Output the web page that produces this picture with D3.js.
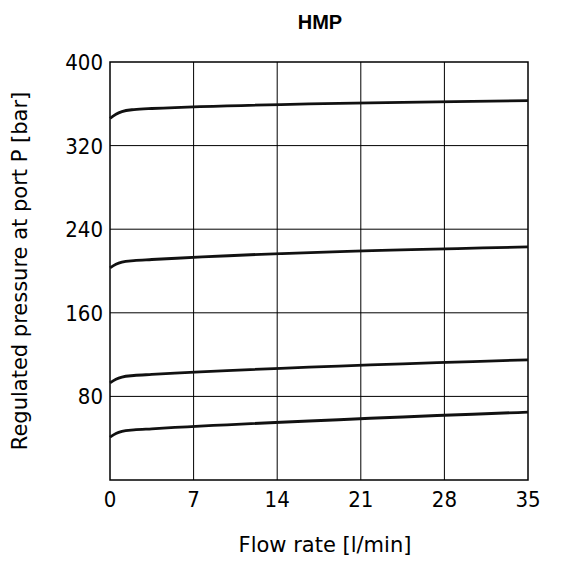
<!DOCTYPE html>
<html><head><meta charset="utf-8">
<script src="https://cdn.jsdelivr.net/npm/d3@7"></script>
<style>body{margin:0;background:#fff}</style></head>
<body><svg id="c" width="562" height="576"></svg>
<script>
const flow = [0, 0.5, 1, 2, 3.5, 35];
const curve1 = [346, 350, 352.5, 354.5, 355.5, 363];
const curve2 = [203, 206.5, 208.5, 210, 211, 223];
const curve3 = [93, 96.5, 98.5, 100, 101, 115];
const curve4 = [41, 44.5, 46.5, 48, 49, 65];
const xTicks = [0, 7, 14, 21, 28, 35];
const yTicks = [80, 160, 240, 320, 400];

const svg = d3.select("#c");
const x = d3.scaleLinear().domain([0, 35]).range([110, 528]);
const y = d3.scaleLinear().domain([0, 400]).range([480, 62]);
const font = "'DejaVu Sans Condensed','DejaVu Sans',sans-serif";

const g = svg.append("g");
g.selectAll(".vg").data(xTicks.slice(1, -1)).enter().append("line")
  .attr("x1", d => x(d)).attr("x2", d => x(d)).attr("y1", y(0)).attr("y2", y(400))
  .attr("stroke", "#000").attr("stroke-width", 1);
g.selectAll(".hg").data(yTicks.slice(0, -1)).enter().append("line")
  .attr("x1", x(0)).attr("x2", x(35)).attr("y1", d => y(d)).attr("y2", d => y(d))
  .attr("stroke", "#000").attr("stroke-width", 1);
g.append("rect").attr("x", x(0)).attr("y", y(400)).attr("width", x(35) - x(0)).attr("height", y(0) - y(400))
  .attr("fill", "none").attr("stroke", "#000").attr("stroke-width", 1.5);

const line = d3.line().x(d => x(d[0])).y(d => y(d[1])).curve(d3.curveMonotoneX);
[curve1, curve2, curve3, curve4].forEach(c => {
  g.append("path").attr("d", line(flow.map((f, i) => [f, c[i]])))
    .attr("fill", "none").attr("stroke", "#111").attr("stroke-width", 2.8);
});

svg.selectAll(".xt").data(xTicks).enter().append("text")
  .attr("x", d => x(d)).attr("y", 507).attr("text-anchor", "middle")
  .attr("font-family", font).attr("font-size", 22).text(d => d);
svg.selectAll(".yt").data(yTicks).enter().append("text")
  .attr("x", 103).attr("y", d => y(d) + 8).attr("text-anchor", "end")
  .attr("font-family", font).attr("font-size", 22).text(d => d);

svg.append("text").attr("x", 320).attr("y", 29).attr("text-anchor", "middle")
  .attr("font-family", "'Liberation Sans',Arial,sans-serif").attr("font-weight", "bold").attr("font-size", 20).text("HMP");
svg.append("text").attr("x", 325).attr("y", 552).attr("text-anchor", "middle")
  .attr("font-family", "'DejaVu Sans',sans-serif").attr("font-size", 21).text("Flow rate [l/min]");
svg.append("text").attr("transform", "translate(27,271) rotate(-90)").attr("text-anchor", "middle")
  .attr("font-family", "'DejaVu Sans',sans-serif").attr("font-size", 21).text("Regulated pressure at port P [bar]");
</script></body></html>
